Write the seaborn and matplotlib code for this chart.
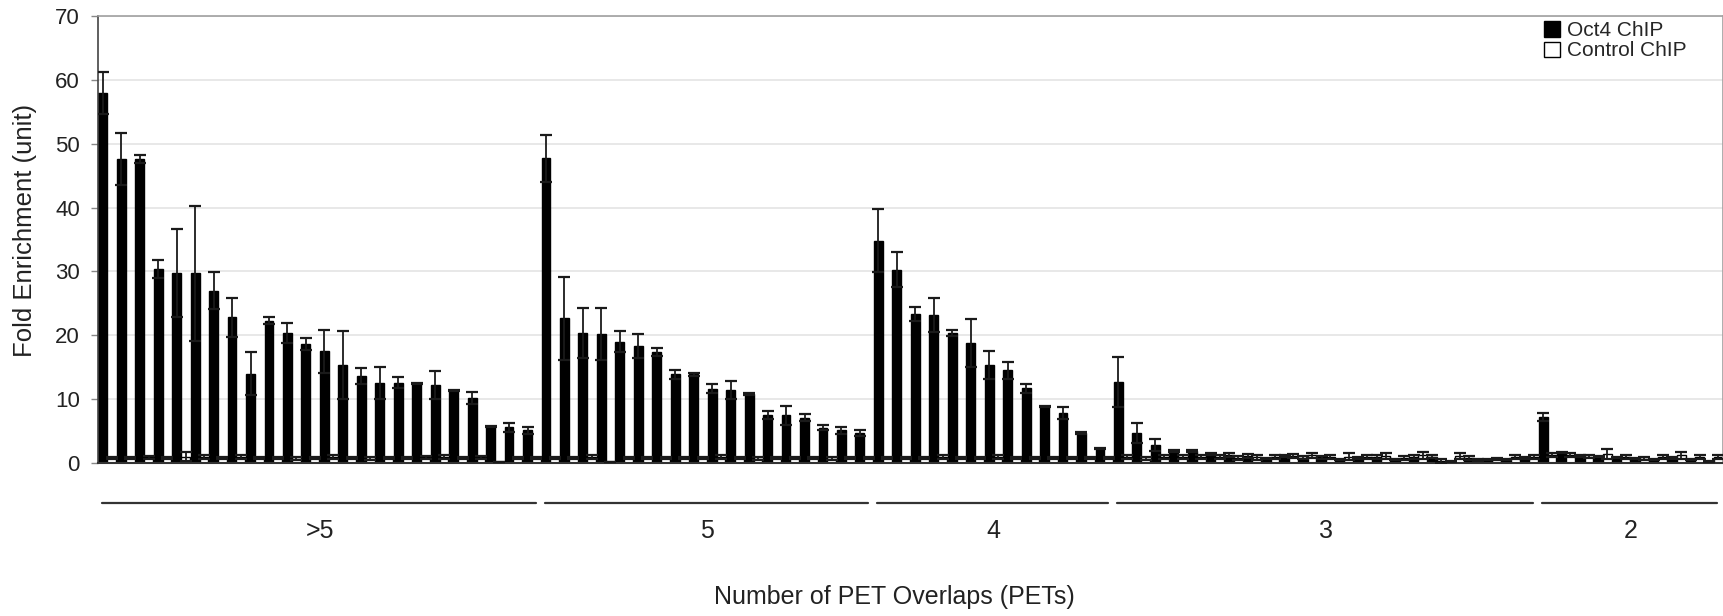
import numpy as np
import pandas as pd
import matplotlib
matplotlib.use("Agg")
import matplotlib.pyplot as plt
import matplotlib.transforms as mtransforms
import seaborn as sns

# Fold enrichment per tested site, grouped by number of PET overlaps
groups = ['>5', '5', '4', '3', '2']
group_sizes = [24, 18, 13, 23, 10]

oct4 = [57.9, 47.6, 47.6, 30.4, 29.7, 29.7, 27.0, 22.8, 14.0, 22.3, 20.4, 18.6,
        17.5, 15.3, 13.6, 12.6, 12.6, 12.4, 12.2, 11.3, 10.2, 5.7, 5.6, 5.1,
        47.7, 22.7, 20.4, 20.2, 19.0, 18.3, 17.4, 13.9, 13.9, 11.6, 11.4, 10.8,
        7.5, 7.5, 7.1, 5.5, 5.1, 4.7,
        34.8, 30.3, 23.4, 23.2, 20.4, 18.8, 15.4, 14.5, 11.7, 8.9, 7.8, 4.7, 2.3,
        12.7, 4.7, 2.8, 1.9, 1.9, 1.4, 1.3, 1.1, 0.75, 1.1, 0.85, 0.9, 0.6, 0.75,
        0.9, 0.5, 0.9, 1.0, 0.2, 0.75, 0.5, 0.5, 0.75,
        7.2, 1.6, 1.1, 1.0, 0.9, 0.75, 0.6, 0.75, 0.5, 0.2]
oct4_err = [3.3, 4.0, 0.6, 1.4, 6.9, 10.6, 2.9, 3.0, 3.4, 0.6, 1.6, 0.9,
            3.4, 5.3, 1.3, 2.5, 0.8, 0.1, 2.2, 0.1, 0.9, 0.1, 0.7, 0.5,
            3.7, 6.5, 3.9, 4.1, 1.6, 1.9, 0.6, 0.7, 0.2, 0.7, 1.4, 0.1,
            0.6, 1.5, 0.5, 0.4, 0.5, 0.4,
            4.9, 2.7, 1.1, 2.7, 0.5, 3.7, 2.2, 1.3, 0.7, 0.1, 0.9, 0.1, 0.1,
            3.9, 1.5, 0.9, 0.1, 0.1, 0.1, 0.3, 0.3, 0.1, 0.2, 0.3, 0.2, 0.1, 0.2,
            0.3, 0.1, 0.3, 0.2, 0.1, 0.3, 0.1, 0.1, 0.2,
            0.7, 0.1, 0.1, 0.1, 0.1, 0.1, 0.1, 0.2, 0.1, 0.1]
control = [0.8, 0.8, 0.9, 0.8, 1.0, 0.9, 0.8, 0.9, 0.8, 0.8, 0.7, 0.8,
           0.9, 0.8, 0.7, 0.8, 0.8, 0.9, 0.9, 0.8, 0.9, 0.1, 0.8, 0.8,
           0.8, 0.8, 0.9, 0.1, 0.8, 0.8, 0.8, 0.8, 0.8, 0.9, 0.8, 0.7,
           0.8, 0.8, 0.8, 0.7, 0.8, 0.8,
           0.8, 0.8, 0.8, 0.9, 0.8, 0.8, 0.9, 0.8, 0.8, 0.8, 0.8, 0.8, 0.8,
           0.9, 0.7, 0.9, 1.0, 1.0, 0.9, 0.8, 0.9, 1.0, 1.1, 1.2, 0.9, 1.0, 0.9,
           1.1, 0.8, 1.2, 0.3, 1.1, 0.5, 0.6, 0.9, 1.0,
           1.3, 1.2, 1.0, 1.4, 0.9, 0.7, 1.0, 1.2, 0.9, 1.0]
control_err = [0.2, 0.2, 0.2, 0.2, 0.7, 0.3, 0.2, 0.3, 0.2, 0.2, 0.2, 0.2,
               0.3, 0.2, 0.2, 0.2, 0.2, 0.2, 0.3, 0.2, 0.2, 0.0, 0.2, 0.2,
               0.2, 0.2, 0.3, 0.0, 0.2, 0.2, 0.2, 0.2, 0.2, 0.3, 0.2, 0.2,
               0.2, 0.2, 0.2, 0.2, 0.2, 0.2,
               0.2, 0.2, 0.2, 0.3, 0.2, 0.2, 0.3, 0.2, 0.2, 0.2, 0.2, 0.2, 0.2,
               0.3, 0.2, 0.3, 0.3, 0.3, 0.3, 0.3, 0.4, 0.3, 0.3, 0.4, 0.3, 0.5, 0.3,
               0.4, 0.3, 0.5, 0.3, 0.5, 0.2, 0.2, 0.3, 0.3,
               0.3, 0.3, 0.2, 0.8, 0.3, 0.2, 0.3, 0.5, 0.3, 0.3]

n = len(oct4)
df = pd.DataFrame({
    'site': list(range(n)) * 2,
    'value': oct4 + control,
    'err': oct4_err + control_err,
    'ChIP': ['Oct4 ChIP'] * n + ['Control ChIP'] * n,
})

sns.set_style("whitegrid", {"grid.color": "#e4e4e4"})
plt.rcParams['font.family'] = ['Liberation Sans', 'DejaVu Sans']

fig = plt.figure(figsize=(17.24, 6.16), dpi=100)
ax = fig.add_axes([98 / 1724, 1 - 463 / 616, 1625 / 1724, 447 / 616])

sns.barplot(data=df, x='site', y='value', hue='ChIP', order=list(range(n)),
            palette={'Oct4 ChIP': 'black', 'Control ChIP': 'white'},
            edgecolor='black', linewidth=1, width=0.96, errorbar=None, ax=ax)

# error bars on top of each bar
for cont, errs in zip(ax.containers, [oct4_err, control_err]):
    xs = [p.get_x() + p.get_width() / 2 for p in cont.patches]
    ys = [p.get_height() for p in cont.patches]
    ax.errorbar(xs, ys, yerr=errs, fmt='none', ecolor='#1a1a1a',
                elinewidth=1.3, capsize=4, capthick=1.6, zorder=3)

ax.set_ylim(0, 70)
ax.set_xlim(-0.5, n - 0.5)
ax.set_yticks(range(0, 71, 10))
ax.set_xticks([])
ax.grid(axis='x', visible=False)
ax.grid(axis='y', linewidth=1.2)
ax.tick_params(axis='y', left=True, length=5, width=1, color='#888888',
               labelsize=16, labelcolor='#222222', pad=8)

for side in ['top', 'right']:
    ax.spines[side].set_color('#a0a0a0')
    ax.spines[side].set_linewidth(1.2)
ax.spines['left'].set_color('#444444')
ax.spines['left'].set_linewidth(1.2)
ax.spines['bottom'].set_color('#333333')
ax.spines['bottom'].set_linewidth(1.5)

ax.set_ylabel('Fold Enrichment (unit)', fontsize=18.5, color='#222222')
ax.yaxis.set_label_coords(-0.0375, 0.52)
ax.set_xlabel('Number of PET Overlaps (PETs)', fontsize=18, color='#222222')
ax.xaxis.set_label_coords(0.49, -0.272)

# group brackets below the axis
trans = mtransforms.blended_transform_factory(ax.transData, ax.transAxes)
start = 0
for label, size in zip(groups, group_sizes):
    end = start + size - 1
    ax.plot([start - 0.3, end + 0.2], [-0.0895, -0.0895], color='#333333',
            linewidth=1.6, transform=trans, clip_on=False)
    ax.text((start + end) / 2, -0.152, label, transform=trans, ha='center',
            va='center', fontsize=18, color='#222222')
    start += size

ax.legend(loc='upper left', bbox_to_anchor=(0.89, 0.988), frameon=False,
          fontsize=15, handlelength=0.75, handleheight=0.75, handletextpad=0.35,
          labelspacing=0.05, borderpad=0, borderaxespad=0)

fig.savefig('out.png', dpi=100, facecolor='white')
